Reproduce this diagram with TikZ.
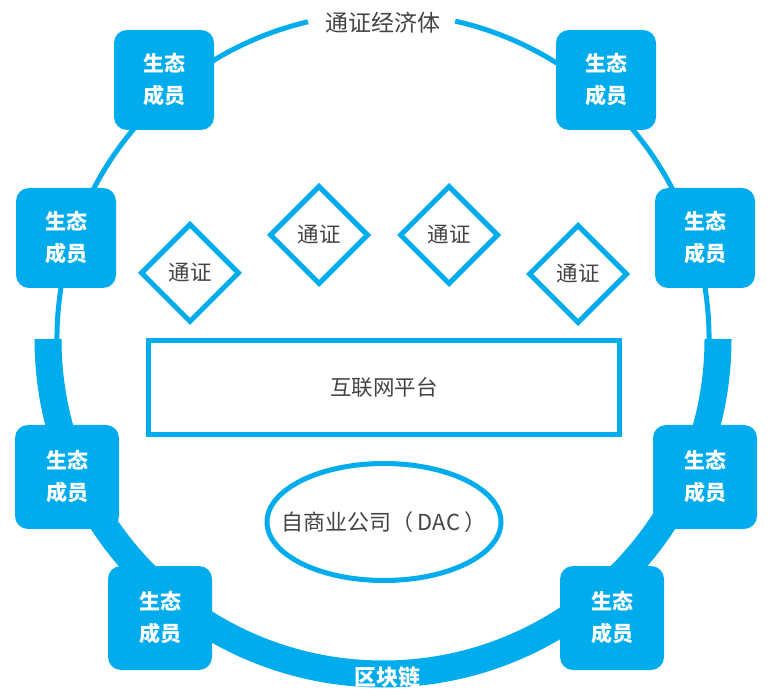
\documentclass[tikz,border=0pt]{standalone}
\usepackage{fontspec}
\setmainfont{Noto Sans CJK SC}
\usetikzlibrary{shapes.geometric}
\definecolor{chainblue}{RGB}{0,172,236}
\definecolor{txtgray}{RGB}{68,68,68}
\begin{document}
\begin{tikzpicture}[x=1pt,y=1pt,
  member/.style={fill=chainblue, rounded corners=13pt, minimum width=100pt, minimum height=100pt,
    inner sep=0pt, text=white, align=center, font=\fontsize{21}{32}\selectfont\bfseries},
  bigmember/.style={member, minimum width=104pt, minimum height=104pt},
  token/.style={diamond, aspect=1, draw=chainblue, line width=5pt, minimum width=99pt, minimum height=99pt,
    inner sep=0pt, fill=white, text=txtgray, font=\fontsize{21.5}{25}\selectfont},
  thinring/.style={draw=chainblue, line width=5pt},
  thickring/.style={draw=chainblue, line width=27pt},
  platform/.style={draw=chainblue, line width=5pt, minimum width=471pt, minimum height=94pt,
    inner sep=0pt, text=txtgray, font=\fontsize{21.5}{25}\selectfont},
  dactext/.style={inner sep=0pt, text=txtgray, font=\fontsize{22}{25}\selectfont},
  dacring/.style={draw=chainblue, line width=5pt}
]
\useasboundingbox (0,0) rectangle (773,696);
\coordinate (C) at (383,357);
% ring
\draw[thinring] (C) ++(103.3:326) arc[start angle=103.3, end angle=190, radius=326];
\draw[thinring] (C) ++(77.2:326) arc[start angle=77.2, end angle=-10, radius=326];
\draw[thickring] (C) ++(180:335) arc[start angle=180, end angle=360, radius=335];
\node[text=txtgray, font=\fontsize{23}{26}\selectfont] (title) at (383,673) {通证经济体};
\node[text=white, font=\fontsize{22}{26}\selectfont\bfseries] (chain) at (387,19) {区块链};
% members
\node[member] (tl) at (164,616) {生态\\成员};
\node[member] (lu) at (66,458) {生态\\成员};
\node[member] (tr) at (606,616) {生态\\成员};
\node[member] (ru) at (705,458) {生态\\成员};
\node[bigmember] (ll) at (67,219) {生态\\成员};
\node[bigmember] (lb) at (160,78) {生态\\成员};
\node[bigmember] (rl) at (705,219) {生态\\成员};
\node[bigmember] (rb) at (612,78) {生态\\成员};
% tokens
\node[token] (d1) at (190,423) {通证};
\node[token] (d2) at (319,461) {通证};
\node[token] (d3) at (449,461) {通证};
\node[token] (d4) at (578,422) {通证};
% platform and DAC
\node[platform] (plat) at (384,308.5) {互联网平台};
\node[dactext] (dacnode) at (384,174) {自商业公司（ DAC ）};
\draw[dacring] (dacnode.center) ellipse[x radius=117, y radius=58.5];
\end{tikzpicture}
\end{document}
